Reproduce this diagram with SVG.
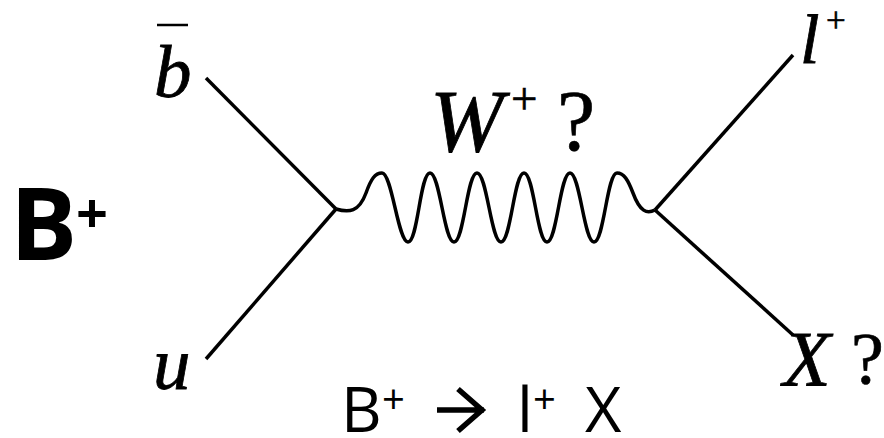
<svg xmlns="http://www.w3.org/2000/svg" width="884" height="438" viewBox="0 0 884 438">
<style>
.ln{stroke:#000;stroke-width:3.5;fill:none;stroke-linecap:butt}
.it{font-family:"Liberation Serif","Times New Roman",serif;font-style:italic;fill:#000;stroke:#000;stroke-width:0.8}
.rm{font-family:"Liberation Serif","Times New Roman",serif;fill:#000;stroke:#000;stroke-width:0.6}
.sans{font-family:"Open Sans","Noto Sans",sans-serif;fill:#000}
.arr{stroke:#000;stroke-width:5.5;fill:none;stroke-linejoin:miter}
</style>
<rect width="884" height="438" fill="#fff"/>
<g id="connectors">
<line class="ln" x1="206" y1="78" x2="336" y2="209"/>
<line class="ln" x1="206" y1="359" x2="336" y2="209"/>
<line class="ln" x1="655" y1="210" x2="793" y2="55"/>
<line class="ln" x1="655" y1="210" x2="793" y2="335"/>
<path class="ln" d="M336,209 C349,213 359,212 366,193 C371,179 375,173 382,173 C392,173 398,242 408,242 C418,242 420,173 430,173 C440,173 444,242 454,242 C464,242 467,173 477,173 C487,173 491,242 501,242 C511,242 514,173 524,173 C534,173 537,242 547,242 C557,242 560,173 570,173 C580,173 584,242 594,242 C604,242 607,173 617,173 C624,173 628,180 633,193 C640,212 647,214 655,210"/>
</g>
<g id="node-bbar">
<text class="it" x="154" y="97" font-size="75">b</text>
<line x1="157" y1="25" x2="188" y2="25" stroke="#000" stroke-width="2.5"/>
</g>
<g id="node-u">
<text class="it" x="153" y="389" font-size="75">u</text>
</g>
<g id="node-W">
<text class="it" x="430" y="151" font-size="88">W</text>
<text class="rm" x="511" y="114" font-size="47">+</text>
<text class="rm" x="557" y="150" font-size="86">?</text>
</g>
<g id="node-l">
<text class="it" x="800" y="63" font-size="70">l</text>
<text class="rm" x="826" y="32" font-size="35">+</text>
</g>
<g id="node-X">
<text class="it" x="783" y="385" font-size="78">X</text>
<text class="rm" x="851" y="384" font-size="74">?</text>
</g>
<g id="node-B">
<text class="sans" x="10" y="260" font-size="100" font-weight="bold">B</text>
<text class="sans" x="76" y="233" font-size="56" font-weight="bold">+</text>
</g>
<g id="label-decay">
<text class="sans" x="341" y="432" font-size="63">B</text>
<text class="sans" x="382" y="414" font-size="40">+</text>
<path class="arr" d="M437,410 H484 M458,389 L482,410 L458,431"/>
<text class="sans" x="517" y="432" font-size="63">l</text>
<text class="sans" x="533" y="414" font-size="40">+</text>
<text class="sans" x="585" y="432" font-size="63">X</text>
</g>
</svg>
